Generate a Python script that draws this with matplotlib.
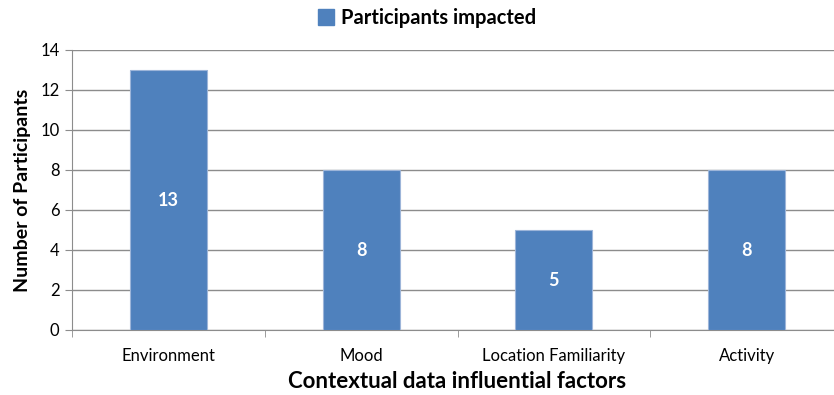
import matplotlib
matplotlib.use("Agg")
import matplotlib.pyplot as plt
from matplotlib.patches import Patch

categories = ["Environment", "Mood", "Location Familiarity", "Activity"]
participants = [13, 8, 5, 8]
series_name = "Participants impacted"

plt.rcParams["font.family"] = ["Lato", "DejaVu Sans"]

W, H = 834, 395
fig = plt.figure(figsize=(W / 100, H / 100), dpi=100)
# plot area: left 72px, right 843px (runs past the figure edge), y 50..330px
ax = fig.add_axes([72 / W, (H - 330) / H, (843 - 72) / W, 280 / H])

bar_color = "#4F81BD"
x = list(range(len(categories)))
bars = ax.bar(x, participants, width=0.4, color=bar_color,
              edgecolor="#9DB5D9", linewidth=0.8, zorder=3)

for rect, v in zip(bars, participants):
    ax.text(rect.get_x() + rect.get_width() / 2, v / 2, str(v),
            ha="center", va="center", color="white",
            fontsize=13, fontweight="bold", zorder=4)

ax.set_xlim(-0.5, len(categories) - 0.5)
ax.set_ylim(0, 14)
ax.set_yticks(range(0, 15, 2))
ax.yaxis.grid(True, color="#8C8C8C", linewidth=1.0, zorder=0)
ax.set_axisbelow(True)

ax.set_xticks(x)
ax.set_xticklabels(categories, fontsize=12)
ax.set_xticks([i - 0.5 for i in range(len(categories) + 1)], minor=True)
ax.tick_params(axis="x", which="major", length=0, pad=13)
ax.tick_params(axis="x", which="minor", length=5, color="#8C8C8C")
ax.tick_params(axis="y", length=5, color="#8C8C8C", labelsize=12, pad=4)

for side in ("top", "right"):
    ax.spines[side].set_visible(False)
ax.spines["left"].set_color("#8C8C8C")
ax.spines["bottom"].set_color("#8C8C8C")

ax.set_ylabel("Number of Participants", fontsize=14, fontweight="bold")
ax.yaxis.set_label_coords(-(72 - 31) / (843 - 72), (330 - 190) / 280)
ax.set_xlabel("Contextual data influential factors", fontsize=16, fontweight="bold")
ax.xaxis.set_label_coords((457 - 72) / (843 - 72), -(371 - 330) / 280)

handle = Patch(facecolor=bar_color, edgecolor=bar_color)
fig.legend([handle], [series_name], loc="center", bbox_to_anchor=(427 / W, 1 - 18 / H),
           frameon=False, prop={"weight": "bold", "size": 14.5},
           handlelength=0.8, handleheight=0.8, handletextpad=0.3)

fig.savefig("out.png", dpi=100)
